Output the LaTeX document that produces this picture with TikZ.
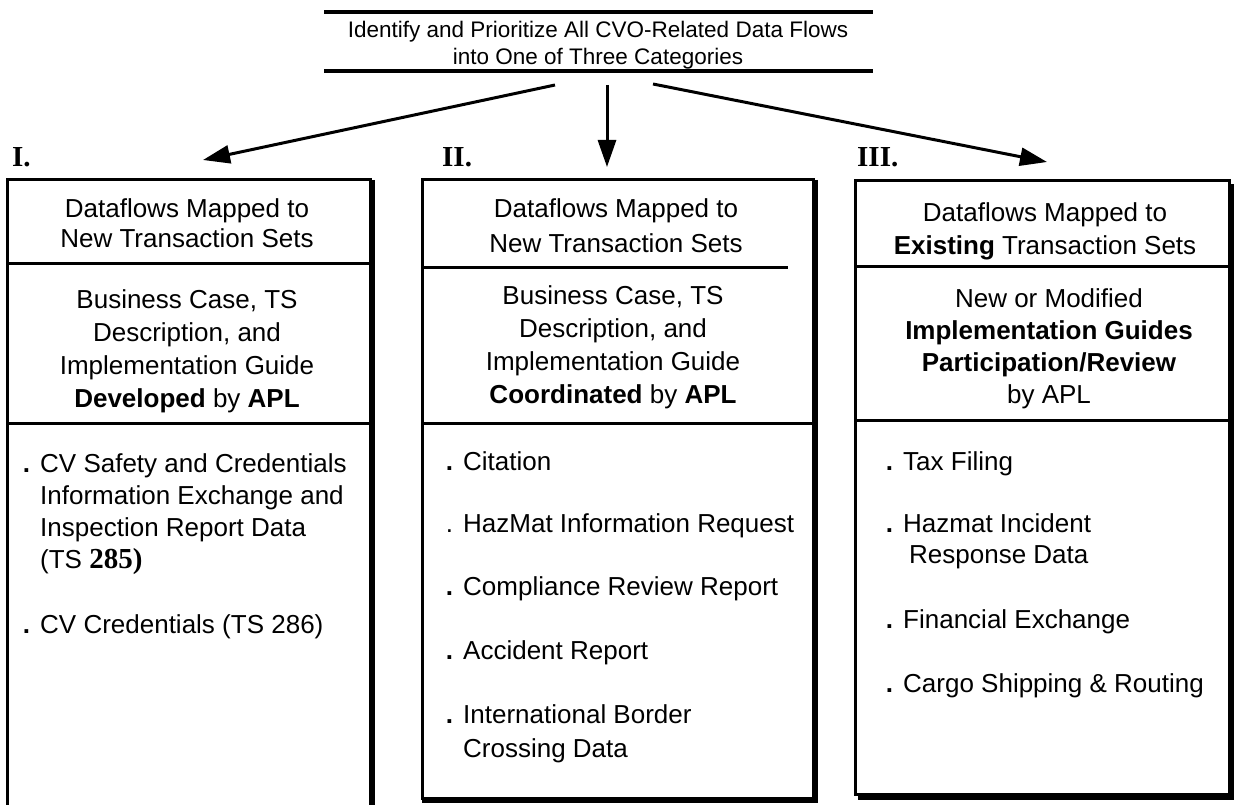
\documentclass[tikz,border=0pt]{standalone}
\usepackage{fontspec}
\setmainfont{Liberation Sans}
\newfontfamily\numfont{Liberation Serif}
\usetikzlibrary{arrows.meta}

\newcommand{\itemdot}{\llap{\textbf{.}\hspace{10pt}}}

\begin{document}
\begin{tikzpicture}[x=1pt, y=-1pt,
  frame/.style={line width=3pt},
  shade/.style={line width=6pt},
  rule/.style={line width=4pt},
  flow/.style={line width=3pt, -{Triangle[length=27pt, width=18pt]}},
  num/.style={anchor=base west, inner sep=0pt, font=\numfont\bfseries\fontsize{29}{29}\selectfont},
  head/.style={anchor=base, align=center, inner sep=0pt, font=\fontsize{26}{33}\selectfont},
  entry/.style={anchor=base west, align=left, inner sep=0pt, font=\fontsize{26}{32}\selectfont}]
\useasboundingbox (0,0) rectangle (1235,805);

% title and its rules (nodes sit on the baseline of their last line)
\node[head, font=\fontsize{22.5}{27}\selectfont] (title) at (598,65) {Identify and Prioritize All CVO-Related Data Flows\\into One of Three Categories};
\draw[rule] (324,12) -- (873,12);
\draw[rule] (324,71) -- (873,71);

% arrows to the three categories
\coordinate (fromI) at (555,85);
\coordinate (fromII) at (607,85);
\coordinate (fromIII) at (653,84);
\coordinate (toI) at (203,160);
\coordinate (toII) at (607,167);
\coordinate (toIII) at (1047,162);
\draw[flow] (fromI) -- (toI);
\draw[flow] (fromII) -- (toII);
\draw[flow] (fromIII) -- (toIII);

\node[num] (labI) at (12,167) {I.};
\node[num] (labII) at (442,167) {II.};
\node[num] (labIII) at (857,167) {III.};

% box I, open at the foot of the page
\draw[frame] (7,806) -- (7,180) -- (370,180) -- (370,806);
\draw[shade] (372,180) -- (372,806);
\draw[frame] (7,264) -- (370,264);
\draw[frame] (7,423) -- (370,423);

% box II
\draw[frame] (422,180) rectangle (813,798);
\draw[shade] (815,180) -- (815,800) -- (422,800);
\draw[frame] (422,268) -- (788,268);
\draw[frame] (422,423) -- (813,423);

% box III
\draw[frame] (855,181) rectangle (1229,794);
\draw[shade] (858,797) -- (1231,797) -- (1231,184);
\draw[frame] (855,267) -- (1229,267);
\draw[frame] (855,420) -- (1229,420);

% headers
\node[head, font=\fontsize{26}{31}\selectfont] (dataI) at (187,248) {Dataflows Mapped to\\New Transaction Sets};
\node[head] (caseI) at (187,407) {Business Case, TS\\Description, and\\Implementation Guide\\\textbf{Developed} by \textbf{APL}};
\node[head, font=\fontsize{26}{35}\selectfont] (dataII) at (616,253) {Dataflows Mapped to\\New Transaction Sets};
\node[head, font=\fontsize{26}{32.7}\selectfont] (caseII) at (613,403) {Business Case, TS\\Description, and\\Implementation Guide\\\textbf{Coordinated} by \textbf{APL}};
\node[head] (dataIII) at (1045,255) {Dataflows Mapped to\\\textbf{Existing} Transaction Sets};
\node[head, font=\fontsize{26}{32}\selectfont] (caseIII) at (1049,403) {New or Modified\\\textbf{Implementation Guides}\\\textbf{Participation/Review}\\by APL};

% data flows, box I
\node[entry, font=\fontsize{26}{31.7}\selectfont] (safety) at (40,568) {\itemdot CV Safety and Credentials\\Information Exchange and\\Inspection Report Data\\(TS {\numfont\bfseries\fontsize{29}{31.7}\selectfont 285)}};
\node[entry] (cred) at (40,633) {\itemdot CV Credentials (TS 286)};

% data flows, box II
\node[entry] (citation) at (463,470) {\itemdot Citation};
\node[entry] (hazmat) at (463,532) {\llap{.\hspace{10pt}}HazMat Information Request};
\node[entry] (review) at (463,595) {\itemdot Compliance Review Report};
\node[entry] (accident) at (463,659) {\itemdot Accident Report};
\node[entry, font=\fontsize{26}{34}\selectfont] (border) at (463,757) {\itemdot International Border\\Crossing Data};

% data flows, box III
\node[entry] (tax) at (903,470) {\itemdot Tax Filing};
\node[entry, font=\fontsize{26}{31}\selectfont] (incident) at (903,563) {\itemdot Hazmat Incident\\\hspace{6pt}Response Data};
\node[entry] (finance) at (903,628) {\itemdot Financial Exchange};
\node[entry] (cargo) at (903,692) {\itemdot Cargo Shipping \& Routing};
\end{tikzpicture}
\end{document}
